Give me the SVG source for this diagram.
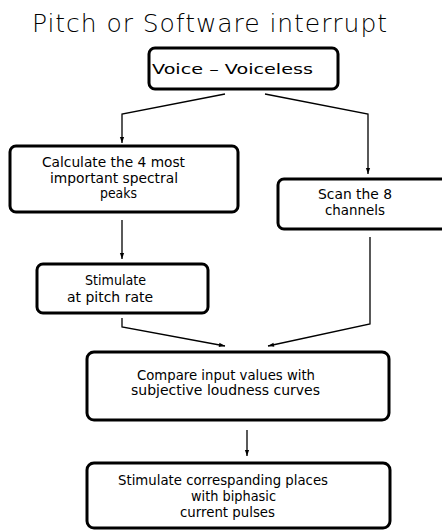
<svg xmlns="http://www.w3.org/2000/svg" width="442" height="531" viewBox="0 0 442 531">
  <style>
    .box { fill: none; stroke: #000; stroke-width: 3; }
    .lbl { font-family: "DejaVu Sans", "Liberation Sans", sans-serif; font-size: 14px; fill: #000; }
    .title { font-family: "DejaVu Sans", "Liberation Sans", sans-serif; font-size: 25px; fill: #000; font-weight: 200; }
    .wire { fill: none; stroke: #000; stroke-width: 1.3; marker-end: url(#head); }
  </style>
  <defs>
    <marker id="head" viewBox="0 0 10 10" refX="10" refY="5" markerWidth="9" markerHeight="6" markerUnits="userSpaceOnUse" orient="auto">
      <path d="M0,1.5 L10,5 L0,8.5 Z" fill="#000"/>
    </marker>
  </defs>
  <rect width="442" height="531" fill="#fff"/>

  <text class="title" x="32" y="32" textLength="355" lengthAdjust="spacing">Pitch or Software interrupt</text>

  <g id="voice">
    <rect class="box" x="149" y="48" width="189" height="41" rx="6"/>
    <text class="lbl" x="152" y="74" font-family="Liberation Sans, sans-serif" font-size="19" textLength="161" lengthAdjust="spacingAndGlyphs">Voice – Voiceless</text>
  </g>

  <g id="calculate">
    <rect class="box" x="10" y="146" width="228" height="66" rx="6"/>
    <text class="lbl" x="42" y="167" textLength="143" lengthAdjust="spacingAndGlyphs">Calculate the 4 most</text>
    <text class="lbl" x="50" y="183" textLength="128" lengthAdjust="spacingAndGlyphs">important spectral</text>
    <text class="lbl" x="100" y="198" textLength="37" lengthAdjust="spacingAndGlyphs">peaks</text>
  </g>

  <g id="scan">
    <rect class="box" x="278" y="179" width="172" height="50" rx="6"/>
    <text class="lbl" x="318" y="199" textLength="74" lengthAdjust="spacingAndGlyphs">Scan the 8</text>
    <text class="lbl" x="325" y="215" textLength="60" lengthAdjust="spacingAndGlyphs">channels</text>
  </g>

  <g id="stimulate-pitch">
    <rect class="box" x="37" y="264" width="171" height="49" rx="6"/>
    <text class="lbl" x="85" y="285" textLength="61" lengthAdjust="spacingAndGlyphs">Stimulate</text>
    <text class="lbl" x="67" y="302" textLength="86" lengthAdjust="spacingAndGlyphs">at pitch rate</text>
  </g>

  <g id="compare">
    <rect class="box" x="87" y="352" width="302" height="68" rx="7"/>
    <text class="lbl" x="137" y="380" textLength="178" lengthAdjust="spacingAndGlyphs">Compare input values with</text>
    <text class="lbl" x="131" y="395" textLength="189" lengthAdjust="spacingAndGlyphs">subjective loudness curves</text>
  </g>

  <g id="stimulate-places">
    <rect class="box" x="87" y="463" width="303" height="65" rx="7"/>
    <text class="lbl" x="118" y="485" textLength="210" lengthAdjust="spacingAndGlyphs">Stimulate correspanding places</text>
    <text class="lbl" x="191" y="501" textLength="85" lengthAdjust="spacingAndGlyphs">with biphasic</text>
    <text class="lbl" x="180" y="517" textLength="95" lengthAdjust="spacingAndGlyphs">current pulses</text>
  </g>

  <g id="connectors">
    <polyline class="wire" points="225,94 122,114 122,143"/>
    <polyline class="wire" points="265,94 368,114 368,174"/>
    <line class="wire" x1="122" y1="220" x2="122" y2="259"/>
    <polyline class="wire" points="122,318 122,327 225,346"/>
    <polyline class="wire" points="370,237 370,324 268,346"/>
    <line class="wire" x1="247" y1="430" x2="247" y2="456"/>
  </g>
</svg>
